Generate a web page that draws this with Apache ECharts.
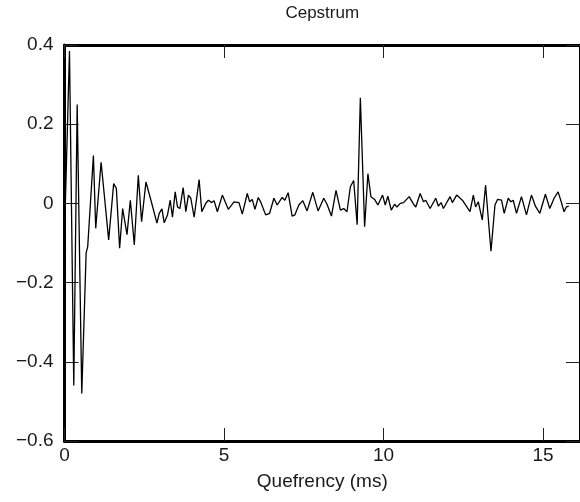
<!DOCTYPE html>
<html>
<head>
<meta charset="utf-8">
<script src="https://cdn.jsdelivr.net/npm/echarts@6/dist/echarts.min.js"></script>
<style>
html,body{margin:0;padding:0;background:#fff;}
#chart{width:580px;height:502px;}
</style>
</head>
<body>
<div id="chart"></div>
<script>
// Quefrency (ms)
var quefrency = [
0.03,0.156,0.291,0.397,0.541,0.678,0.728,0.906,0.978,1.147,1.384,1.541,1.625,1.728,1.822,1.959,2.063,2.188,2.313,2.416,2.553,2.709,2.897,
2.969,3.053,3.125,3.228,3.313,3.384,3.469,3.541,3.616,3.719,3.803,3.884,3.959,4.063,4.219,4.303,4.428,4.509,4.616,4.688,4.791,4.947,
5.134,5.313,5.469,5.572,5.728,5.803,5.884,5.969,6.072,6.147,6.303,6.428,6.563,6.666,6.822,6.906,7.009,7.134,7.219,7.344,7.469,7.603,
7.781,7.947,8.125,8.228,8.366,8.509,8.647,8.75,8.853,8.959,9.063,9.116,9.172,9.272,9.406,9.509,9.603,9.719,9.822,9.969,10.053,10.134,
10.241,10.344,10.416,10.522,10.625,10.803,10.938,11.009,11.147,11.25,11.322,11.459,11.634,11.719,11.803,11.875,12.084,12.156,12.291,
12.469,12.709,12.813,12.884,12.969,13.094,13.197,13.303,13.366,13.491,13.572,13.697,13.781,13.906,13.991,14.063,14.166,14.322,14.478,
14.634,14.759,14.897,15.072,15.209,15.344,15.469,15.553,15.656,15.728,15.803
];
// Cepstrum values
var cepstrum = [
0.008,0.385,-0.46,0.25,-0.48,-0.125,-0.109,0.121,-0.063,0.104,-0.092,0.05,0.038,-0.113,-0.013,-0.079,0.008,-0.105,0.071,-0.046,0.054,0.008,-0.05,
-0.025,-0.014,-0.049,-0.029,0.008,-0.035,0.029,-0.009,-0.013,0.04,-0.021,0.021,0.013,-0.035,0.06,-0.021,0.0,0.008,0.002,0.007,-0.021,0.021,
-0.015,0.004,0.002,-0.027,0.025,0.004,0.01,-0.015,0.015,0.004,-0.029,-0.025,0.013,-0.004,0.015,0.008,0.027,-0.032,-0.029,-0.004,0.007,-0.019,
0.028,-0.019,0.013,-0.002,-0.032,0.033,-0.017,-0.013,-0.021,0.042,0.058,0.054,-0.054,0.267,-0.059,0.075,0.017,0.01,-0.004,0.021,-0.004,0.018,
-0.017,-0.002,-0.009,0.0,0.002,0.017,-0.002,-0.009,0.025,0.004,0.008,-0.013,0.013,-0.007,0.002,-0.013,0.017,0.002,0.021,
0.008,-0.021,0.021,-0.009,0.004,-0.042,0.046,-0.059,-0.121,-0.004,0.01,0.008,-0.025,0.013,0.004,0.008,-0.025,0.017,-0.029,
0.021,-0.007,-0.025,0.023,-0.013,0.013,0.029,0.008,-0.021,-0.009,-0.007
];
var xTicks = [0, 5, 10, 15];
var yTicks = [-0.6, -0.4, -0.2, 0, 0.2, 0.4];

var seriesData = quefrency.map(function (q, i) { return [q, cepstrum[i]]; });

var FONT = '"Liberation Sans", Arial, Helvetica, sans-serif';
var chart = echarts.init(document.getElementById('chart'), null, {renderer: 'canvas'});

function yFmt(v) {
  if (Math.abs(v) < 1e-9) return '0';
  return v.toFixed(1).replace('-', '\u2212');
}

var axisLine = {show: true, onZero: false, lineStyle: {color: '#000', width: 3}};
var tickX = {show: true, inside: true, length: 13, lineStyle: {color: '#222', width: 1}};
var tickY = {show: true, inside: true, length: 14, lineStyle: {color: '#222', width: 1}};

chart.setOption({
  animation: false,
  backgroundColor: '#fff',
  grid: {left: 64.5, top: 44, width: 517.5, height: 397, containLabel: false},
  xAxis: [{
    type: 'value', position: 'bottom', min: xTicks[0], max: 16.156, interval: 5,
    axisLine: axisLine, axisTick: tickX, splitLine: {show: false},
    axisLabel: {show: true, margin: 5, fontSize: 19, color: '#1a1a1a', fontFamily: FONT,
      showMaxLabel: false, formatter: function (v) { return xTicks.indexOf(v) >= 0 ? String(v) : ''; }},
    name: 'Quefrency (ms)', nameLocation: 'middle', nameGap: 31,
    nameTextStyle: {fontSize: 19, color: '#1a1a1a', fontFamily: FONT}
  }, {
    type: 'value', position: 'top', min: xTicks[0], max: 16.156, interval: 5,
    axisLine: axisLine, axisTick: tickX, splitLine: {show: false},
    axisLabel: {show: false},
    name: 'Cepstrum', nameLocation: 'middle', nameGap: 23,
    nameTextStyle: {fontSize: 17, color: '#1a1a1a', fontFamily: FONT}
  }],
  yAxis: [{
    type: 'value', position: 'left', min: yTicks[0], max: yTicks[yTicks.length - 1], interval: 0.2,
    axisLine: axisLine, axisTick: tickY, splitLine: {show: false},
    axisLabel: {show: true, margin: 11, fontSize: 19, color: '#1a1a1a', fontFamily: FONT, formatter: yFmt}
  }, {
    type: 'value', position: 'right', min: yTicks[0], max: yTicks[yTicks.length - 1], interval: 0.2,
    axisLine: axisLine, axisTick: tickY, splitLine: {show: false},
    axisLabel: {show: false}
  }],
  series: [{
    type: 'line', xAxisIndex: 0, yAxisIndex: 0, data: seriesData,
    showSymbol: false, symbol: 'none', smooth: false,
    lineStyle: {color: '#000', width: 1.3}, clip: true
  }]
});
</script>
</body>
</html>
